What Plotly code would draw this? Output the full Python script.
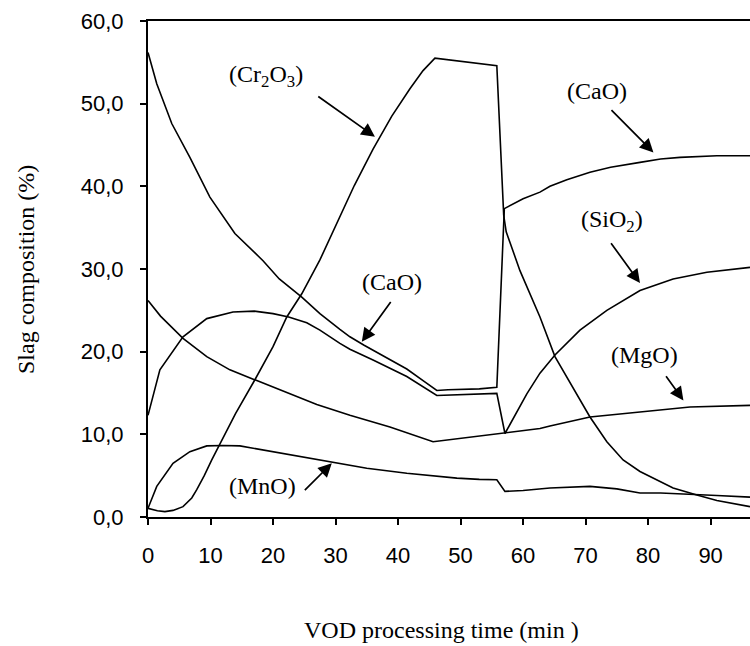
import plotly.graph_objects as go

# ---- data ----
cr2o3_x = [0, 1.5, 2.7, 4, 5.6, 7, 7.8, 9, 10.2, 11, 14, 17.1, 20, 22.2, 24.6, 27.5, 30.7, 33, 36, 39,
           41.9, 44, 45.9, 48, 51, 53, 55.8, 56.9, 57.3, 59.5, 62.7, 65.1, 68, 70.7, 73.4, 76, 78.7,
           81.4, 84, 87.8, 91, 96.3]
cr2o3_y = [1.05, 0.75, 0.65, 0.8, 1.25, 2.3, 3.3, 5.0, 6.9, 8.1, 12.5, 16.6, 20.6, 24.2, 27.0, 31.1,
           36.3, 40.1, 44.5, 48.5, 51.8, 54.0, 55.5, 55.3, 55.0, 54.8, 54.6, 36.5, 34.5, 29.8, 24.2,
           19.4, 15.7, 12.1, 9.1, 6.9, 5.5, 4.5, 3.5, 2.66, 2.0, 1.25]

cao_x = [0, 1.4, 3.8, 6.7, 9.9, 13.9, 18.4, 21, 24.6, 27.5, 30.7, 32.3, 34.5, 38, 41.4, 44, 46.2,
         48, 51, 53, 55.8, 57.0, 60, 62.7, 64.3, 67, 70.7, 74, 78.7, 82, 85.1, 91, 96.3]
cao_y = [56.2, 52.4, 47.6, 43.5, 38.7, 34.3, 31.0, 28.8, 26.6, 24.6, 22.7, 21.8, 20.8, 19.3, 17.9,
         16.5, 15.3, 15.4, 15.5, 15.5, 15.7, 37.3, 38.5, 39.3, 40.0, 40.8, 41.7, 42.3, 42.9, 43.3,
         43.5, 43.7, 43.7]

sio2_x = [0, 1.9, 5.6, 9.4, 13.6, 17, 20, 22.5, 25.4, 27.5, 30.7, 32.3, 36, 41.4, 46.2, 51, 55.8,
          57.1, 60.6, 62.7, 65.1, 69.1, 73.4, 78.7, 84, 89.4, 96.3]
sio2_y = [12.3, 17.8, 21.8, 24.0, 24.8, 24.9, 24.6, 24.2, 23.5, 22.6, 21.0, 20.3, 19.0, 17.0, 14.7,
          14.8, 14.95, 10.1, 14.9, 17.4, 19.6, 22.6, 25.0, 27.4, 28.8, 29.6, 30.2]

mgo_x = [0, 2, 5.6, 9.4, 13.1, 17.1, 22.7, 27, 32.3, 38.7, 45.6, 52, 57.1, 62.7, 64.3, 70.7, 78.7,
         86.7, 96.3]
mgo_y = [26.2, 24.3, 21.6, 19.4, 17.8, 16.6, 14.9, 13.6, 12.3, 10.9, 9.1, 9.7, 10.1, 10.7, 11.0,
         12.1, 12.7, 13.3, 13.5]

mno_x = [0, 1.4, 4, 6.7, 9.4, 12, 14.7, 20, 25.4, 30.7, 35, 41.4, 45, 49.4, 53, 55.8, 57.1, 60,
         64.3, 70.7, 75, 78.7, 82, 86.7, 91, 96.3]
mno_y = [1.05, 3.7, 6.5, 7.9, 8.6, 8.65, 8.6, 7.9, 7.1, 6.4, 5.9, 5.3, 5.0, 4.7, 4.55, 4.5, 3.1,
         3.2, 3.5, 3.7, 3.4, 2.9, 2.9, 2.7, 2.6, 2.4]

x_ticks = [0, 10, 20, 30, 40, 50, 60, 70, 80, 90]
y_ticks = [0, 10, 20, 30, 40, 50, 60]

# label text, text centre (x, y), arrow tail (x, y), arrow tip (x, y)
labels = ["(Cr<sub>2</sub>O<sub>3</sub>)", "(CaO)", "(SiO<sub>2</sub>)", "(CaO)", "(MgO)", "(MnO)"]
label_pos = [(18.9, 53.4), (71.8, 51.5), (74.3, 35.8), (39.0, 28.4), (79.4, 19.6), (18.3, 3.7)]
arrow_tail = [(27.0, 51.0), (73.9, 49.4), (73.9, 33.3), (39.0, 26.2), (82.7, 17.2), (24.85, 3.06)]
arrow_tip = [(36.3, 46.0), (80.85, 44.1), (78.7, 28.3), (34.2, 21.2), (85.65, 14.1), (29.4, 6.5)]

fig = go.Figure()
for xs, ys in [(cr2o3_x, cr2o3_y), (cao_x, cao_y), (sio2_x, sio2_y), (mgo_x, mgo_y), (mno_x, mno_y)]:
    fig.add_trace(go.Scatter(x=xs, y=ys, mode="lines",
                             line=dict(color="black", width=1.6), showlegend=False))

serif = "Liberation Serif, Times New Roman, serif"
for txt, (tx, ty) in zip(labels, label_pos):
    fig.add_annotation(x=tx, y=ty, xref="x", yref="y", text=txt, showarrow=False,
                       font=dict(family=serif, size=24, color="black"),
                       xanchor="center", yanchor="middle")
for (ax, ay), (hx, hy) in zip(arrow_tail, arrow_tip):
    fig.add_annotation(x=hx, y=hy, ax=ax, ay=ay, xref="x", yref="y", axref="x", ayref="y",
                       text="", showarrow=True, arrowhead=2, arrowsize=1.6, arrowwidth=1.7,
                       arrowcolor="black", standoff=0, startstandoff=0)

fig.add_annotation(x=-0.2027, y=0.5, xref="paper", yref="paper", text="Slag composition (%)",
                   textangle=-90, showarrow=False, xanchor="center", yanchor="middle",
                   font=dict(family=serif, size=24, color="black"))
fig.add_annotation(x=0.488, y=-0.2277, xref="paper", yref="paper", text="VOD processing time (min )",
                   showarrow=False, xanchor="center", yanchor="middle",
                   font=dict(family=serif, size=24, color="black"))

tickfont = dict(family="Liberation Sans, Arial, sans-serif", size=22, color="black")
fig.update_xaxes(range=[0, 96.3], tickvals=x_ticks, showline=True, linecolor="black", linewidth=2,
                 mirror=True, ticks="outside", ticklen=6, tickwidth=1.5, tickcolor="black",
                 showgrid=False, zeroline=False, tickfont=tickfont, ticklabelstandoff=12)
fig.update_yaxes(range=[0, 60], tickvals=y_ticks, tickformat=".1f", showline=True, linecolor="black",
                 linewidth=2, ticks="outside", ticklen=6, tickwidth=1.5, tickcolor="black",
                 showgrid=False, zeroline=False, tickfont=tickfont, ticklabelstandoff=12)
fig.update_layout(width=750, height=646, margin=dict(l=148, r=0, t=21, b=129),
                  paper_bgcolor="white", plot_bgcolor="white", separators=", ")
fig.write_html("out.html")
